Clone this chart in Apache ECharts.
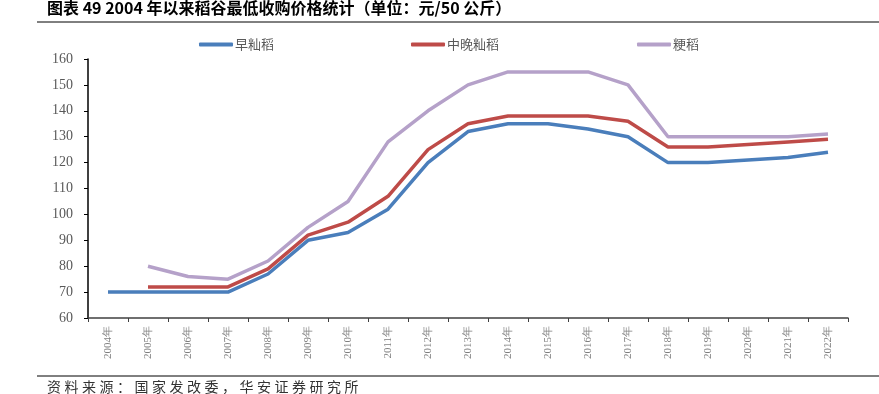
<!DOCTYPE html>
<html><head><meta charset="utf-8">
<script src="https://cdn.jsdelivr.net/npm/echarts@6/dist/echarts.min.js"></script>
<style>html,body{margin:0;padding:0;background:#fff}#c{width:879px;height:394px}</style>
</head><body><div id="c"></div>
<script>
const years = ['2004年','2005年','2006年','2007年','2008年','2009年','2010年','2011年','2012年','2013年','2014年','2015年','2016年','2017年','2018年','2019年','2020年','2021年','2022年'];
const seriesNames = ['早籼稻','中晚籼稻','粳稻'];
const earlyIndica = [70,70,70,70,77,90,93,102,120,132,135,135,133,130,120,120,121,122,124];
const midLateIndica = [null,72,72,72,79,92,97,107,125,135,138,138,138,136,126,126,127,128,129];
const japonica = [null,80,76,75,82,95,105,128,140,150,155,155,155,150,130,130,130,130,131];
const yMin = 60, yMax = 160, yStep = 10;
const titleText = '图表 49 2004 年以来稻谷最低收购价格统计（单位：元/50 公斤）';
const sourceText = '资料来源：国家发改委，华安证券研究所';

const colors = ['#4a7ebb','#be4b48','#b5a1c9'];
const serif = '"Liberation Serif","DejaVu Serif",serif';
const legendX = [199, 411, 637];
const spaced = s => s.split('').join('\u2005');
const chart = echarts.init(document.getElementById('c'));
chart.setOption({
  animation:false,
  backgroundColor:'#fff',
  grid:{left:88,right:31,top:59,bottom:76,containLabel:false},
  legend:seriesNames.map((n,i)=>({
    top:38,left:legendX[i],padding:0,itemWidth:34,itemHeight:4,icon:'roundRect',itemGap:0,
    textStyle:{fontFamily:'"Noto Sans CJK SC",serif',fontSize:13,color:'#595959',padding:[0,0,0,-3]},
    data:[n]
  })),
  xAxis:{
    type:'category',data:years,boundaryGap:true,
    axisLine:{lineStyle:{color:'#404040',width:1.5}},
    axisTick:{show:true,length:4,lineStyle:{color:'#404040'}},
    axisLabel:{rotate:90,fontFamily:serif,fontSize:11,color:'#7f7f7f',margin:8,interval:0}
  },
  yAxis:{
    type:'value',min:yMin,max:yMax,interval:yStep,
    axisLine:{show:true,lineStyle:{color:'#000',width:1.5}},
    axisTick:{show:true,length:4,inside:false,lineStyle:{color:'#000'}},
    splitLine:{show:false},
    axisLabel:{fontFamily:serif,fontSize:14,color:'#595959',margin:15}
  },
  series:[
    {name:seriesNames[0],type:'line',data:earlyIndica,showSymbol:false,symbol:'none',lineStyle:{width:3.5,color:colors[0]},itemStyle:{color:colors[0]}},
    {name:seriesNames[1],type:'line',data:midLateIndica,showSymbol:false,symbol:'none',lineStyle:{width:3.5,color:colors[1]},itemStyle:{color:colors[1]}},
    {name:seriesNames[2],type:'line',data:japonica,showSymbol:false,symbol:'none',lineStyle:{width:3.5,color:colors[2]},itemStyle:{color:colors[2]}}
  ],
  graphic:[
    {type:'text',left:47,top:0,style:{text:titleText,font:'bold 16px "Noto Sans CJK SC",sans-serif',fill:'#000'}},
    {type:'line',shape:{x1:37,y1:22,x2:879,y2:22},style:{stroke:'#000',lineWidth:1}},
    {type:'line',shape:{x1:37,y1:376,x2:879,y2:376},style:{stroke:'#000',lineWidth:1}},
    {type:'text',left:47,top:380,style:{text:spaced(sourceText),font:'14px "Noto Sans CJK SC",sans-serif',fill:'#333'}}
  ]
});
</script></body></html>
